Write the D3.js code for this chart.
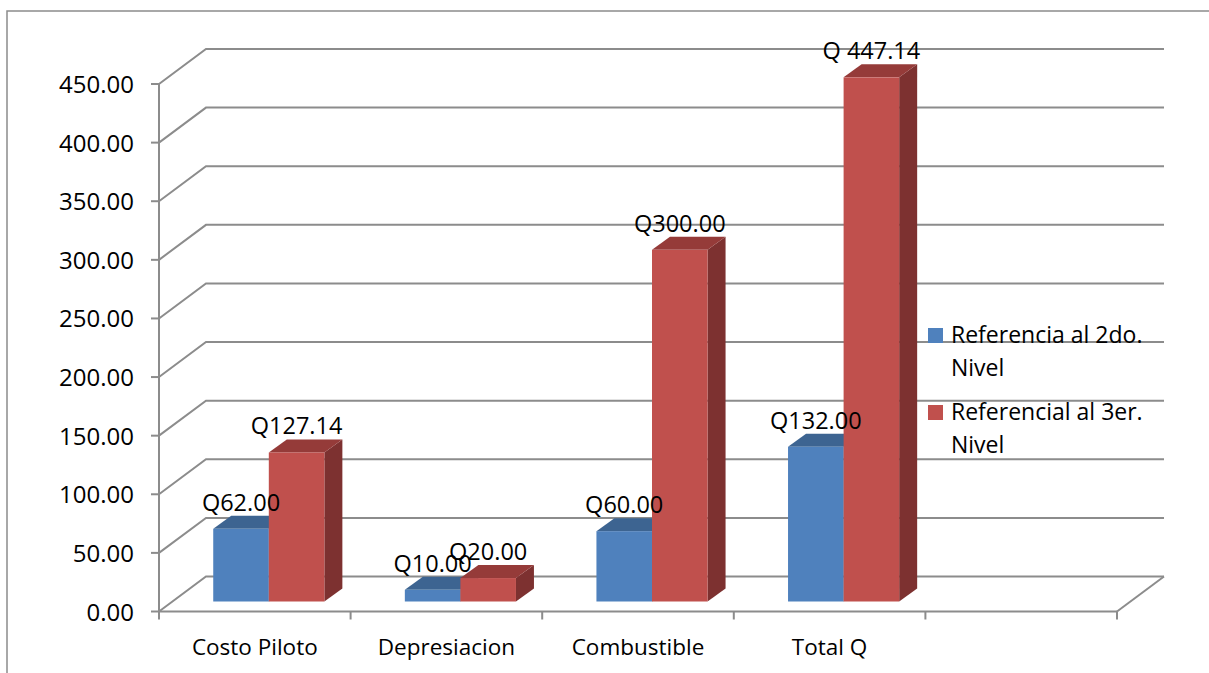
<!DOCTYPE html>
<html>
<head>
<meta charset="utf-8">
<script src="https://cdn.jsdelivr.net/npm/d3@7"></script>
<style>
  html, body { margin: 0; padding: 0; background: #ffffff; }
  svg { display: block; }
  text { font-family: "Open Sans", "Noto Sans", sans-serif; fill: #000; }
</style>
</head>
<body>
<svg id="chart" width="1209" height="673"></svg>
<script>
// Cost categories (the last slot is left empty on the axis)
const categories = ["Costo Piloto", "Depresiacion", "Combustible", "Total Q", ""];

// Series values (Quetzales)
const serieNivel2 = [62.00, 10.00, 60.00, 132.00];
const serieNivel3 = [127.14, 20.00, 300.00, 447.14];

// Data label texts for each series
const labelsNivel2 = ["Q62.00", "Q10.00", "Q60.00", "Q132.00"];
const labelsNivel3 = ["Q127.14", "Q20.00", "Q300.00", "Q 447.14"];

const seriesNames = [["Referencia al 2do.", "Nivel"], ["Referencial al 3er.", "Nivel"]];

// Value axis ticks
const yTicks = [0, 50, 100, 150, 200, 250, 300, 350, 400, 450];

const svg = d3.select("#chart");

// ---- layout of the 3D box ----
const x0 = 159, x1 = 1117;          // front floor edge
const depthX = 47, depthY = 35;     // back wall offset
const y = d3.scaleLinear().domain([0, 450]).range([611.5, 84]);
const x = d3.scaleBand().domain(d3.range(categories.length)).range([x0, x1]);

const gridColor = "#8c8c8c";
const palette = [
  { front: "#4f81bd", top: "#3d6491", side: "#34567d" },
  { front: "#c0504d", top: "#953b39", side: "#7d3130" }
];

// outer chart frame
svg.append("rect")
  .attr("x", 7).attr("y", 11)
  .attr("width", 1230).attr("height", 700)
  .attr("fill", "none").attr("stroke", gridColor).attr("stroke-width", 1.5);

// ---- walls: gridlines on the side and back wall ----
const grid = svg.append("g").attr("stroke", gridColor).attr("stroke-width", 2).attr("fill", "none");
yTicks.forEach(t => {
  const yf = y(t), yb = y(t) - depthY;
  grid.append("path")
    .attr("d", `M${x0},${yf}L${x0 + depthX},${yb}L${x1 + depthX},${yb}`);
});
// floor right edge
grid.append("path").attr("d", `M${x1},${y(0)}L${x1 + depthX},${y(0) - depthY}`);

// ---- axes ----
const axisG = svg.append("g").attr("stroke", gridColor).attr("stroke-width", 2);
axisG.append("line").attr("x1", x0).attr("x2", x0).attr("y1", y(450)).attr("y2", y(0) + 1);
axisG.append("line").attr("x1", x0).attr("x2", x1).attr("y1", y(0)).attr("y2", y(0));
yTicks.forEach(t => {
  axisG.append("line").attr("x1", x0 - 8).attr("x2", x0).attr("y1", y(t)).attr("y2", y(t));
});
categories.forEach((c, i) => {
  axisG.append("line").attr("x1", x(i)).attr("x2", x(i)).attr("y1", y(0)).attr("y2", y(0) + 8);
});
axisG.append("line").attr("x1", x1).attr("x2", x1).attr("y1", y(0)).attr("y2", y(0) + 8);

// value labels
svg.append("g").selectAll("text").data(yTicks).join("text")
  .attr("x", 134).attr("y", d => y(d) + 9)
  .attr("text-anchor", "end").attr("font-size", 24)
  .text(d => d3.format(".2f")(d));

// category labels
svg.append("g").selectAll("text").data(categories).join("text")
  .attr("x", (d, i) => x(i) + x.bandwidth() / 2)
  .attr("y", 655)
  .attr("text-anchor", "middle").attr("font-size", 22.5)
  .text(d => d);

// ---- 3D bars ----
const faceShiftX = 14, faceShiftY = 10;   // bar front face sits partly into the floor
const barDX = 18, barDY = 13;             // bar depth
const barW = x.bandwidth() * 0.29;
const bars = svg.append("g");
const labels = svg.append("g");

const allSeries = [serieNivel2, serieNivel3];
const allLabels = [labelsNivel2, labelsNivel3];

allSeries[0].forEach((_, i) => {
  const center = x(i) + x.bandwidth() / 2 + faceShiftX;
  allSeries.forEach((vals, s) => {
    const v = vals[i];
    const bx = center - barW + s * barW;
    const yb = y(0) - faceShiftY;
    const yt = y(v) - faceShiftY;
    const c = palette[s];
    const g = bars.append("g");
    // side face
    g.append("path")
      .attr("d", `M${bx + barW},${yt}L${bx + barW + barDX},${yt - barDY}L${bx + barW + barDX},${yb - barDY}L${bx + barW},${yb}Z`)
      .attr("fill", c.side);
    // top face
    g.append("path")
      .attr("d", `M${bx},${yt}L${bx + barDX},${yt - barDY}L${bx + barW + barDX},${yt - barDY}L${bx + barW},${yt}Z`)
      .attr("fill", c.top);
    // front face
    g.append("rect")
      .attr("x", bx).attr("y", yt)
      .attr("width", barW).attr("height", yb - yt)
      .attr("fill", c.front);
  });
});

// data labels above each bar
allSeries[0].forEach((_, i) => {
  const center = x(i) + x.bandwidth() / 2 + faceShiftX;
  allSeries.forEach((vals, s) => {
    const bx = center - barW + s * barW;
    labels.append("text")
      .attr("x", bx + barW / 2)
      .attr("y", y(vals[i]) - faceShiftY - barDY - 5)
      .attr("text-anchor", "middle").attr("font-size", 23.5)
      .text(allLabels[s][i]);
  });
});

// ---- legend ----
const legend = svg.append("g");
const legendTops = [328, 405];
seriesNames.forEach((lines, s) => {
  legend.append("rect")
    .attr("x", 928).attr("y", legendTops[s])
    .attr("width", 15).attr("height", 15)
    .attr("fill", palette[s].front);
  lines.forEach((ln, k) => {
    legend.append("text")
      .attr("x", 951).attr("y", legendTops[s] + 15 + k * 33)
      .attr("font-size", 23)
      .text(ln);
  });
});
</script>
</body>
</html>
